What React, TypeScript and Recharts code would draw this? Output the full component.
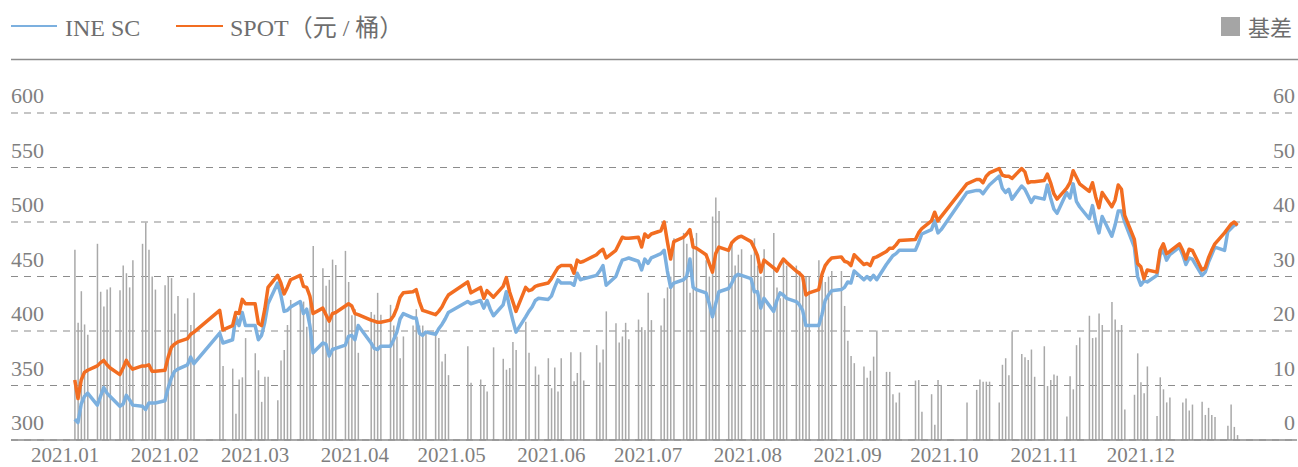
import { Bar, CartesianGrid, ComposedChart, Line, XAxis, YAxis } from "recharts";

// trading days of 2021, one list per month
const tradingDays: number[][] = [
  [4, 5, 6, 7, 8, 11, 12, 13, 14, 15, 18, 19, 20, 21, 22, 25, 26, 27, 28, 29],
  [1, 2, 3, 4, 5, 8, 9, 10, 18, 19, 22, 23, 24, 25, 26],
  [1, 2, 3, 4, 5, 8, 9, 10, 11, 12, 15, 16, 17, 18, 19, 22, 23, 24, 25, 26, 29, 30, 31],
  [1, 2, 6, 7, 8, 9, 12, 13, 14, 15, 16, 19, 20, 21, 22, 23, 26, 27, 28, 29, 30],
  [6, 7, 10, 11, 12, 13, 14, 17, 18, 19, 20, 21, 24, 25, 26, 27, 28, 31],
  [1, 2, 3, 4, 7, 8, 9, 10, 11, 15, 16, 17, 18, 21, 22, 23, 24, 25, 28, 29, 30],
  [1, 2, 5, 6, 7, 8, 9, 12, 13, 14, 15, 16, 19, 20, 21, 22, 23, 26, 27, 28, 29, 30],
  [2, 3, 4, 5, 6, 9, 10, 11, 12, 13, 16, 17, 18, 19, 20, 23, 24, 25, 26, 27, 30, 31],
  [1, 2, 3, 6, 7, 8, 9, 10, 13, 14, 15, 16, 17, 22, 23, 24, 27, 28, 29, 30],
  [8, 11, 12, 13, 14, 15, 18, 19, 20, 21, 22, 25, 26, 27, 28, 29],
  [1, 2, 3, 4, 5, 8, 9, 10, 11, 12, 15, 16, 17, 18, 19, 22, 23, 24, 25, 26, 29, 30],
  [1, 2, 3, 6, 7, 8, 9, 10, 13, 14, 15, 16, 17, 20, 21, 22, 23, 24, 27, 28, 29, 30, 31],
];

const scPrice: number[][] = [
  [319, 316, 333, 340, 343, 332, 340, 348, 343, 340, 331, 333, 341, 337, 332, 331, 328, 334, 334, 334],
  [336, 348, 357, 363, 365, 369, 376, 370, 398, 389, 392, 413, 405, 417, 405],
  [405, 392, 396, 408, 425, 444, 433, 418, 419, 422, 427, 416, 420, 405, 380, 389, 388, 377, 383, 384, 387, 395, 396],
  [392, 405, 389, 384, 383, 386, 386, 392, 399, 411, 416, 412, 412, 398, 396, 399, 397, 402, 406, 411, 417],
  [427, 425, 428, 421, 428, 420, 414, 424, 436, 422, 410, 399, 413, 418, 422, 428, 430, 429],
  [432, 440, 447, 444, 444, 442, 453, 447, 448, 451, 455, 460, 442, 450, 458, 465, 466, 467, 464, 456, 466],
  [462, 467, 471, 474, 455, 440, 444, 447, 450, 466, 440, 438, 435, 425, 413, 425, 436, 439, 444, 450, 452, 451],
  [448, 436, 436, 421, 430, 418, 428, 435, 433, 430, 427, 424, 419, 405, 405, 405, 415, 428, 433, 437, 438, 440],
  [445, 444, 455, 447, 450, 447, 451, 447, 461, 465, 469, 471, 474, 474, 481, 489, 493, 501, 490, 493],
  [527, 529, 529, 526, 530, 534, 542, 531, 527, 530, 521, 533, 530, 524, 518, 523],
  [521, 534, 522, 512, 508, 527, 522, 535, 519, 514, 503, 515, 500, 490, 505, 487, 497, 510, 510, 500, 477, 450],
  [442, 446, 445, 451, 470, 474, 465, 470, 477, 470, 461, 467, 466, 451, 454, 463, 470, 477, 474, 491, 494, 497, 498],
];

const spotPrice: number[][] = [
  [355, 338, 355, 362, 364, 368, 371, 373, 369, 366, 360, 366, 373, 368, 365, 368, 368, 369, 363, 363],
  [364, 376, 385, 388, 390, 393, 397, 399, 419, 401, 405, 417, 416, 429, 425],
  [425, 407, 405, 420, 440, 451, 444, 434, 440, 447, 451, 441, 440, 432, 416, 421, 415, 409, 416, 417, 423, 425, 423],
  [416, 415, 410, 409, 408, 408, 410, 414, 421, 431, 435, 436, 438, 427, 419, 418, 415, 418, 422, 428, 433],
  [445, 435, 440, 430, 437, 434, 431, 441, 449, 436, 427, 418, 440, 437, 438, 441, 442, 444],
  [448, 453, 458, 460, 460, 453, 465, 463, 464, 470, 473, 475, 467, 474, 480, 486, 485, 485, 486, 477, 489],
  [486, 489, 492, 500, 482, 466, 482, 486, 489, 493, 477, 476, 470, 462, 454, 471, 477, 474, 481, 484, 486, 487],
  [482, 476, 469, 454, 465, 458, 455, 461, 466, 463, 455, 453, 450, 433, 435, 438, 452, 460, 464, 467, 468, 464],
  [463, 460, 470, 461, 462, 460, 467, 468, 473, 476, 476, 479, 483, 484, 490, 494, 501, 509, 501, 505],
  [535, 539, 539, 536, 542, 545, 549, 543, 542, 542, 540, 549, 546, 536, 537, 537],
  [538, 544, 536, 526, 521, 531, 536, 547, 541, 535, 528, 536, 523, 513, 527, 514, 520, 534, 530, 506, 484, 462],
  [459, 448, 456, 454, 474, 480, 471, 473, 480, 474, 466, 475, 474, 456, 458, 467, 474, 480, 490, 494, 498, 500, 497],
];

const basisValues: (number | null)[][] = [
  [34.9, 21.5, 27.3, 21.2, 19.3, 36, 27.2, 24.5, 27.6, 28, 27.5, 32, 30.6, 28, 33, 36, 39.9, 34.9, 30, 27.6],
  [28.4, 30, 29.7, 23.2, 26.4, 26, 21.1, 27, 19.9, 13.6, 13.1, 4.8, 11.1, 11.5, 18.7],
  [15.9, 12.8, 7, 11.6, 11.6, 7.3, 14.6, 16.5, 21.1, 25.7, 25.6, 25.4, 20.8, 26.3, 35.6, 31.5, 28.3, 29.4, 33.1, 32.1, 34.7, 29, 22.9],
  [24, 16, 23.5, 23, 27, 23, 24.8, 21, 19, 15, 19, 21, 24, 21, 21, 20, 20, 18.7, 14.4, 15.8, 11.9],
  [17.2, 10.5, 11.1, 10.1, 8.9, null, 17, 14.9, 12.9, 13.2, 18, 16.5, 21.7, 16, null, 13.5, 12, 15],
  [9.5, 13.3, 8.9, 15, 16.1, 10.8, 12.3, 16.1, 10.9, 17.4, 14.2, 16.6, 23.6, 21.4, 17.9, 19, 21.5, 18.5, 22.1, 20.7, 20.2],
  [27, 22, 21, 26, 28, 30, 37, 38, 36, 27, 37, 38, 33, 30, 41, 44.5, 42, 35, 36, 32, 34, 35],
  [34, 37, 32, 30, 35, 38, 28, 26, 33, 32, 32, 31, 30, 30, 30, 33, 31, 29, 30, 31, 31, 24.6],
  [18.2, 15.4, 14.1, 13.5, 11.4, 12.7, 15.3, 20.1, 12.5, 12.5, 8.4, 6.9, 8.7, 10.9, 11, 5.2, 8.4, 2.8, 11, 10.1],
  [6.9, 9.2, 11.1, 10.7, 10.7, 10.7, 6.9, 13.8, 15, 11.9, 19.9, 15.8, 15.2, 14.7, 16.6, 11.6],
  [17.2, 9.9, 11, 12, 11.8, 4.3, 11.7, 9.3, 17.4, 18.8, 22.8, 18.7, 18.8, 23.2, 21.1, 25.3, 22.1, 20.2, 21.1, 5.6, 8.3, 15.9],
  [10.6, 8.6, 13.5, 4.4, 11.5, 9.3, 6.9, 7.8, null, 6.9, 7.6, 5.4, 6.5, 7, 4.6, 5.9, 4.6, 4.2, null, 2.6, 6.5, 2.4, 0.9],
];

const leftTicks = [300, 350, 400, 450, 500, 550, 600];
const rightTicks = [0, 10, 20, 30, 40, 50, 60];

const dayOfYear = (month: number, day: number) =>
  (Date.UTC(2021, month, day) - Date.UTC(2021, 0, 1)) / 86400000;

const monthTicks = Array.from({ length: 12 }, (_, m) => dayOfYear(m, 1));

const data = tradingDays.flatMap((days, m) =>
  days.map((day, i) => ({
    d: dayOfYear(m, day),
    sc: scPrice[m][i],
    spot: spotPrice[m][i],
    basis: basisValues[m][i],
  }))
);

const FONT = "'Liberation Serif', 'Noto Sans CJK SC', serif";
const TEXT = "#7f7f7f";
const BLUE = "#7cb0df";
const ORANGE = "#f26d21";
const GREY_BAR = "#a9a9a9";

function LeftTick({ y, payload }: any) {
  return (
    <text x={11} y={y - 10} fill={TEXT} fontSize={22} fontFamily={FONT} textAnchor="start">
      {payload.value}
    </text>
  );
}

function RightTick({ y, payload }: any) {
  return (
    <text x={1295} y={y - 10} fill={TEXT} fontSize={22} fontFamily={FONT} textAnchor="end">
      {payload.value}
    </text>
  );
}

function MonthTick({ x, payload }: any) {
  const m = monthTicks.indexOf(payload.value) + 1;
  return (
    <text x={x} y={462} fill={TEXT} fontSize={21} fontFamily={FONT} textAnchor="middle">
      {`2021.${String(m).padStart(2, "0")}`}
    </text>
  );
}

export default function App() {
  return (
    <div style={{ position: "relative", width: 1298, height: 467, background: "#fff" }}>
      <style>{"body{margin:0}"}</style>
      <svg
        width={1298}
        height={70}
        style={{ position: "absolute", left: 0, top: 0, pointerEvents: "none" }}
      >
        <line x1={11} x2={57} y1={26} y2={26} stroke={BLUE} strokeWidth={2} />
        <text x={65} y={36} fill="#6e6e6e" fontSize={24} fontFamily={FONT}>
          INE SC
        </text>
        <line x1={176} x2={223} y1={26} y2={26} stroke={ORANGE} strokeWidth={2} />
        <text x={230} y={36} fill="#6e6e6e" fontSize={24} fontFamily={FONT}>
          SPOT（元 / 桶）
        </text>
        <rect x={1221} y={17} width={19} height={19} fill="#a5a5a5" />
        <text x={1248} y={36} fill="#6e6e6e" fontSize={22} fontFamily={FONT}>
          基差
        </text>
        <line x1={11} x2={1298} y1={59.5} y2={59.5} stroke="#8c8c8c" strokeWidth={1.3} />
      </svg>
      <ComposedChart
        width={1298}
        height={467}
        data={data}
        margin={{ top: 113, right: 1, left: 11, bottom: 0 }}
        style={{ position: "absolute", left: 0, top: 0 }}
      >
        <CartesianGrid
          yAxisId="left"
          vertical={false}
          stroke="#8c8c8c"
          strokeWidth={1.2}
          strokeDasharray="7 6"
        />
        <XAxis
          dataKey="d"
          type="number"
          domain={[-16.8, 382.5]}
          ticks={monthTicks}
          height={27}
          tickLine={false}
          axisLine={{ stroke: "#8c8c8c", strokeWidth: 1.5 }}
          tick={<MonthTick />}
          interval={0}
        />
        <YAxis
          yAxisId="left"
          domain={[300, 600]}
          ticks={leftTicks}
          mirror
          axisLine={false}
          tickLine={false}
          tick={<LeftTick />}
          interval={0}
        />
        <YAxis
          yAxisId="right"
          orientation="right"
          domain={[0, 60]}
          ticks={rightTicks}
          mirror
          axisLine={false}
          tickLine={false}
          tick={<RightTick />}
          interval={0}
        />
        <Bar
          yAxisId="right"
          dataKey="basis"
          name="基差"
          fill={GREY_BAR}
          barSize={1.5}
          isAnimationActive={false}
        />
        <Line
          yAxisId="left"
          dataKey="sc"
          name="INE SC"
          type="linear"
          stroke={BLUE}
          strokeWidth={3.5}
          strokeLinejoin="round"
          dot={false}
          isAnimationActive={false}
        />
        <Line
          yAxisId="left"
          dataKey="spot"
          name="SPOT（元／桶）"
          type="linear"
          stroke={ORANGE}
          strokeWidth={3.5}
          strokeLinejoin="round"
          dot={false}
          isAnimationActive={false}
        />
      </ComposedChart>
    </div>
  );
}
